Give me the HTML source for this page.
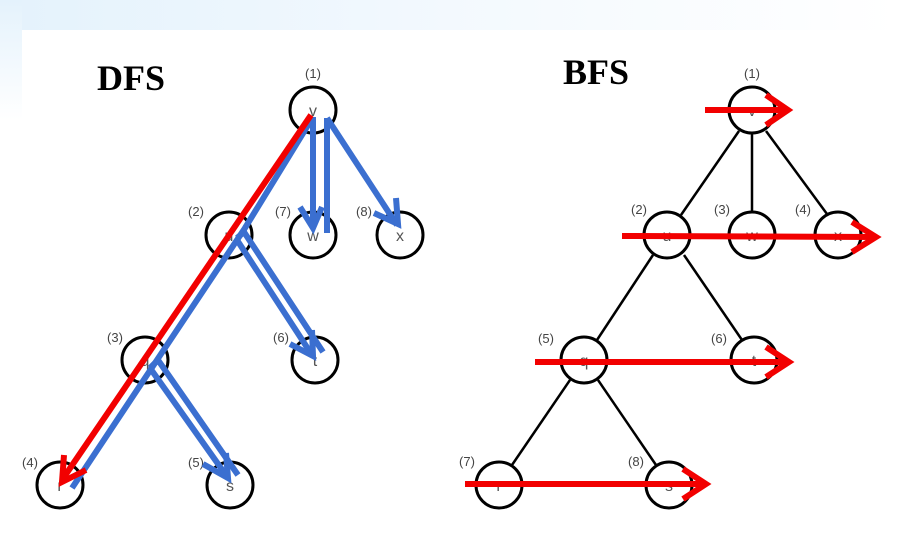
<!DOCTYPE html>
<html><head><style>
body{margin:0;width:897px;height:543px;overflow:hidden;background:#fff}
svg{display:block}
</style></head><body>
<svg width="897" height="543" xmlns="http://www.w3.org/2000/svg">
<defs>
<linearGradient id="g1" x1="0" x2="1" y1="0" y2="0">
<stop offset="0" stop-color="#e4f2fc"/><stop offset="0.5" stop-color="#f3f9fe"/><stop offset="1" stop-color="#fff"/>
</linearGradient>
<linearGradient id="g2" x1="0" x2="0" y1="0" y2="1">
<stop offset="0" stop-color="#e4f2fc"/><stop offset="1" stop-color="#fff"/>
</linearGradient>
</defs>
<rect x="0" y="0" width="897" height="30" fill="url(#g1)"/>
<rect x="0" y="0" width="22" height="120" fill="url(#g2)"/>
<text x="97" y="90" font-family="Liberation Serif" font-weight="bold" font-size="36">DFS</text>
<text x="563" y="84" font-family="Liberation Serif" font-weight="bold" font-size="36">BFS</text>
<g fill="#fff" stroke="#000" stroke-width="3">
<circle cx="313" cy="110" r="23"/><circle cx="229" cy="235" r="23"/><circle cx="313" cy="235" r="23"/><circle cx="400" cy="235" r="23"/>
<circle cx="145" cy="360" r="23"/><circle cx="315" cy="360" r="23"/><circle cx="60" cy="485" r="23"/><circle cx="230" cy="485" r="23"/>
</g>
<g stroke="#000" stroke-width="2.5">
<line x1="739" y1="131" x2="681" y2="215"/><line x1="752" y1="133" x2="752" y2="212"/><line x1="766" y1="131" x2="827" y2="214"/>
<line x1="653" y1="255" x2="597" y2="340"/><line x1="684" y1="255" x2="742" y2="340"/>
<line x1="570" y1="380" x2="512" y2="465"/><line x1="598" y1="380" x2="656" y2="465"/>
</g>
<g fill="#fff" stroke="#000" stroke-width="3">
<circle cx="752" cy="110" r="23"/><circle cx="667" cy="235" r="23"/><circle cx="752" cy="235" r="23"/><circle cx="838" cy="235" r="23"/>
<circle cx="584" cy="360" r="23"/><circle cx="754" cy="360" r="23"/><circle cx="499" cy="485" r="23"/><circle cx="669" cy="485" r="23"/>
</g>
<g font-family="Liberation Sans" font-size="13" fill="#444" text-anchor="middle">
<text x="313" y="78">(1)</text><text x="196" y="216">(2)</text><text x="283" y="216">(7)</text><text x="364" y="216">(8)</text>
<text x="115" y="342">(3)</text><text x="281" y="342">(6)</text><text x="30" y="467">(4)</text><text x="196" y="467">(5)</text>
<text x="752" y="78">(1)</text><text x="639" y="214">(2)</text><text x="722" y="214">(3)</text><text x="803" y="214">(4)</text>
<text x="546" y="343">(5)</text><text x="719" y="343">(6)</text><text x="467" y="466">(7)</text><text x="636" y="466">(8)</text>
</g>
<g font-family="Liberation Sans" font-size="16" fill="#555" text-anchor="middle">
<text x="313" y="116">v</text><text x="229" y="241">u</text><text x="313" y="241">w</text><text x="400" y="241">x</text>
<text x="145" y="366">q</text><text x="315" y="366">t</text><text x="60" y="491">r</text><text x="230" y="491">s</text>
<text x="752" y="116">v</text><text x="667" y="241">u</text><text x="752" y="241">w</text><text x="838" y="241">x</text>
<text x="584" y="366">q</text><text x="754" y="366">t</text><text x="499" y="491">r</text><text x="669" y="491">s</text>
</g>
<g stroke="#3b6fd0" stroke-width="6" fill="none" stroke-linejoin="miter">
<polyline points="72,488 157,360 245,228 313,117"/>
<line x1="313" y1="117" x2="313" y2="225"/>
<polyline points="300,207 313,228 322,207"/>
<line x1="327" y1="118" x2="327" y2="233"/>
<line x1="327" y1="118" x2="397" y2="225"/>
<polyline points="374,213 398,224 396,198"/>
<polyline points="237,238 244,232 323,352"/>
<line x1="237" y1="240" x2="312" y2="355"/>
<polyline points="290,344 313,356 312,330"/>
<polyline points="150,368 158,360 238,475"/>
<line x1="150" y1="368" x2="228" y2="478"/>
<polyline points="203,464 228,478 226,453"/>
</g>
<g stroke="#f20000" stroke-width="6" fill="none">
<line x1="311" y1="115" x2="62" y2="480"/>
<polyline points="64,455 62,482 86,470"/>
<line x1="705" y1="110" x2="785" y2="110"/>
<polyline points="766,95 788,110 766,125"/>
<line x1="622" y1="236" x2="875" y2="237"/>
<polyline points="852,222 876,237 852,252"/>
<line x1="535" y1="362" x2="788" y2="362"/>
<polyline points="766,347 789,362 766,377"/>
<line x1="465" y1="484" x2="705" y2="484"/>
<polyline points="683,469 706,484 683,499"/>
</g>
</svg>
</body></html>
